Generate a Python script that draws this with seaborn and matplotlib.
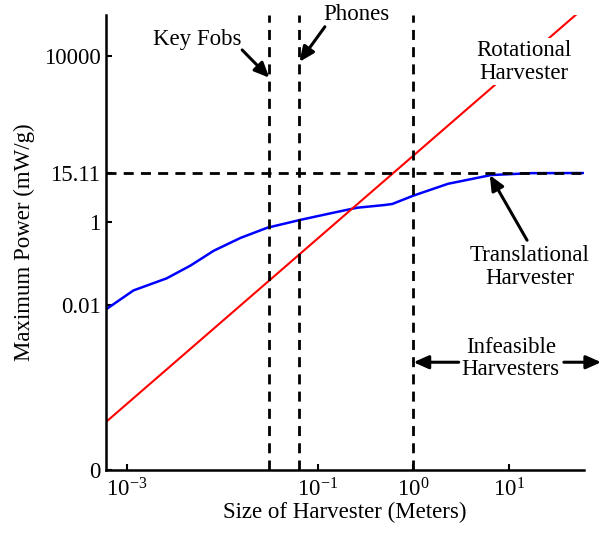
import numpy as np
import pandas as pd
import matplotlib
matplotlib.use("Agg")
import matplotlib.pyplot as plt
import seaborn as sns

# sizes (m) and power (mW/g)
trans_size = [6.1e-4, 1.17e-3, 2.6e-3, 4.6e-3, 8.1e-3, 0.0155, 0.0295, 0.066,
              0.145, 0.257, 0.50, 0.60, 1.0, 2.3, 6.5, 17.0, 60.0]
trans_power = [7.8e-3, 0.022, 0.043, 0.087, 0.20, 0.41, 0.72, 1.12,
               1.66, 2.19, 2.55, 2.7, 4.3, 8.3, 13.5, 15.0, 15.11]
rot_size = [6.0e-4, 1e-3, 1e-2, 1e-1, 1.0, 10.0, 60.0]
rot_power = [1.44e-5, 4e-5, 4e-3, 0.4, 40.0, 4000.0, 1.44e5]

device_sizes = [0.031, 0.064, 1.0]   # key fobs, phones, feasibility limit
power_limit = 15.11

xtick_vals = [1e-3, 1e-1, 1e0, 1e1]
xtick_labels = [r"$10^{-3}$", r"$10^{-1}$", r"$10^{0}$", r"$10^{1}$"]
ytick_vals = [1e-6, 1e-2, 1, 15.11, 1e4]
ytick_labels = ["0", "0.01", "1", "15.11", "10000"]

sns.set_style("ticks")
plt.rcParams["font.family"] = ["Liberation Serif", "DejaVu Serif"]
plt.rcParams["mathtext.fontset"] = "custom"
plt.rcParams["mathtext.rm"] = "Liberation Serif"
plt.rcParams["mathtext.it"] = "Liberation Serif:italic"
plt.rcParams["text.color"] = "black"
plt.rcParams["axes.labelcolor"] = "black"

df_t = pd.DataFrame({"size": trans_size, "power": trans_power})
df_r = pd.DataFrame({"size": rot_size, "power": rot_power})

fig = plt.figure(figsize=(6.02, 5.33), dpi=100)
ax = fig.add_axes([0.176, 0.118, 0.794, 0.854])

sns.lineplot(data=df_t, x="size", y="power", color="#0000ff", lw=1.8, ax=ax, zorder=2)
sns.lineplot(data=df_r, x="size", y="power", color="#ff0000", lw=1.5, ax=ax, zorder=2)

dash = (0, (3.6, 2.6))
for s in device_sizes:
    ax.axvline(s, color="black", lw=2, linestyle=dash, zorder=3)
ax.axhline(power_limit, color="black", lw=2, linestyle=dash, zorder=3)

ax.set_xscale("log")
ax.set_yscale("log")
ax.set_xlim(10 ** -3.22, 10 ** 1.785)
ax.set_ylim(1e-6, 1e5)
ax.minorticks_off()
ax.set_xticks(xtick_vals)
ax.set_xticklabels(xtick_labels)
ax.set_yticks(ytick_vals)
ax.set_yticklabels(ytick_labels)
fs = 16.5
ax.tick_params(direction="in", length=4, width=1.5, labelsize=fs, colors="black")
ax.tick_params(axis="x", pad=6)
ax.tick_params(axis="y", pad=4)
for sp in ["top", "right"]:
    ax.spines[sp].set_visible(False)
for sp in ["left", "bottom"]:
    ax.spines[sp].set_linewidth(1.8)
    ax.spines[sp].set_color("black")

ax.set_xlabel("Size of Harvester (Meters)", fontsize=fs, labelpad=0)
ax.set_ylabel("Maximum Power (mW/g)", fontsize=fs, labelpad=6)

arrow = dict(arrowstyle="-|>,head_length=0.9,head_width=0.4", color="black", lw=2.2,
             shrinkA=0, shrinkB=0)

# annotations
ax.text(0.192, 0.947, "Key Fobs", transform=ax.transAxes, ha="center", va="center", fontsize=fs)
ax.annotate("", xy=(device_sizes[0], 0.862), xycoords=("data", "axes fraction"),
            xytext=(0.285, 0.923), textcoords="axes fraction", arrowprops=arrow)
ax.text(0.525, 1.0, "Phones", transform=ax.transAxes, ha="center", va="center", fontsize=fs)
ax.annotate("", xy=(device_sizes[1], 0.897), xycoords=("data", "axes fraction"),
            xytext=(0.458, 0.974), textcoords="axes fraction", arrowprops=arrow)
ax.text(0.874, 0.897, "Rotational\nHarvester", transform=ax.transAxes, ha="center",
        va="center", fontsize=fs, linespacing=1.15, zorder=5,
        bbox=dict(facecolor="white", edgecolor="none", pad=1))
ax.text(0.887, 0.446, "Translational\nHarvester", transform=ax.transAxes, ha="center",
        va="center", fontsize=fs, linespacing=1.15)
ax.annotate("", xy=(0.803, 0.648), xycoords="axes fraction",
            xytext=(0.881, 0.505), textcoords="axes fraction", arrowprops=arrow)
ax.text(0.847, 0.246, "Infeasible\nHarvesters", transform=ax.transAxes, ha="center",
        va="center", fontsize=fs, linespacing=1.05)
ax.annotate("", xy=(device_sizes[2], 0.237), xycoords=("data", "axes fraction"),
            xytext=(0.738, 0.237), textcoords="axes fraction", arrowprops=arrow)
ax.annotate("", xy=(1.036, 0.237), xycoords="axes fraction",
            xytext=(0.958, 0.237), textcoords="axes fraction", arrowprops=arrow,
            annotation_clip=False)

fig.savefig("out.png", dpi=100)
plt.close(fig)
